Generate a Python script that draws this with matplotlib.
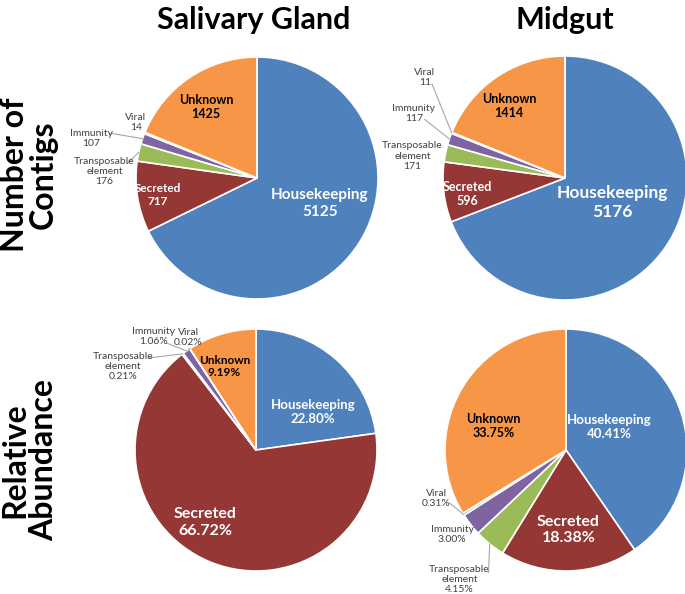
"""Pie charts of contig categories: counts and relative abundance in salivary gland and midgut."""
import matplotlib
matplotlib.use('Agg')
import matplotlib.pyplot as plt
import numpy as np

plt.rcParams['font.family'] = ['Lato', 'DejaVu Sans']

categories = ['Housekeeping', 'Secreted', 'Transposable\nelement', 'Immunity', 'Viral', 'Unknown']
colors = ['#4F81BD', '#953735', '#9BBB59', '#8064A2', '#4BACC6', '#F79646']

sg_contigs = [5125, 717, 176, 107, 14, 1425]
mg_contigs = [5176, 596, 171, 117, 11, 1414]
sg_abundance = [22.80, 66.72, 0.21, 1.06, 0.02, 9.19]
mg_abundance = [40.41, 18.38, 4.15, 3.00, 0.31, 33.75]

col_titles = ['Salivary Gland', 'Midgut']
row_titles = ['Number of\nContigs', 'Relative\nAbundance']

W, H = 685, 594

# label layout per pie: (x, y, style, fontsize, line_start) in units of the pie radius
# style: 'in' white bold, 'ink' black bold, 'out' small dark grey with optional leader line
layouts = {
    'tl': [(0.52, -0.21, 'in', 11, None), (-0.82, -0.14, 'in', 8.5, None),
           (-1.26, 0.05, 'out', 7.5, (-1.07, 0.12)), (-1.37, 0.33, 'out', 7.5, (-1.21, 0.37)),
           (-1.00, 0.46, 'out', 7.5, None), (-0.42, 0.59, 'ink', 9, None)],
    'tr': [(0.39, -0.20, 'in', 12.5, None), (-0.80, -0.13, 'in', 9, None),
           (-1.25, 0.18, 'out', 7.5, None), (-1.24, 0.53, 'out', 7.5, (-1.15, 0.48)),
           (-1.15, 0.82, 'out', 7.5, (-1.09, 0.77)), (-0.46, 0.59, 'ink', 9, None)],
    'bl': [(0.47, 0.31, 'in', 9.5, None), (-0.42, -0.60, 'in', 11.5, None),
           (-1.10, 0.69, 'out', 7.5, (-0.89, 0.76)), (-0.85, 0.94, 'out', 7.5, (-0.73, 0.88)),
           (-0.56, 0.93, 'out', 7.5, (-0.56, 0.83)), (-0.26, 0.69, 'ink', 8.5, None)],
    'br': [(0.36, 0.19, 'in', 9.5, None), (0.02, -0.66, 'in', 11.5, None),
           (-0.88, -1.07, 'out', 7.5, (-0.64, -1.01)), (-0.94, -0.70, 'out', 7.5, None),
           (-1.07, -0.40, 'out', 7.5, (-0.96, -0.44)), (-0.60, 0.20, 'ink', 9, None)],
}

# pie centres and radius in pixels
pies = [('tl', sg_contigs, 257, 178, 121, '{:d}'),
        ('tr', mg_contigs, 565, 178, 122, '{:d}'),
        ('bl', sg_abundance, 256, 450, 121, '{:.2f}%'),
        ('br', mg_abundance, 566, 450, 121, '{:.2f}%')]

fig = plt.figure(figsize=(W / 100, H / 100), dpi=100)

for key, values, cx, cy, r, fmt in pies:
    ax = fig.add_axes([(cx - r) / W, 1 - (cy + r) / H, 2 * r / W, 2 * r / H])
    wedges, _ = ax.pie(values, colors=colors, startangle=90, counterclock=False,
                       wedgeprops=dict(edgecolor='white', linewidth=1.2))
    ax.set_xlim(-1, 1)
    ax.set_ylim(-1, 1)
    ax.set_aspect('equal')
    ax.axis('off')
    for wedge, cat, val, (x, y, style, size, start) in zip(wedges, categories, values, layouts[key]):
        txt = cat + '\n' + fmt.format(val)
        if style == 'out':
            ax.text(x, y, txt, ha='center', va='center', fontsize=size,
                    color='#404040', linespacing=1.15, clip_on=False)
            if start is not None:
                mid = np.deg2rad((wedge.theta1 + wedge.theta2) / 2)
                ax.plot([start[0], np.cos(mid)], [start[1], np.sin(mid)],
                        color='#A6A6A6', lw=0.8, clip_on=False)
        else:
            ax.text(x, y, txt, ha='center', va='center', fontsize=size, fontweight='bold',
                    color='white' if style == 'in' else 'black', linespacing=1.2)

for i, title in enumerate(col_titles):
    fig.text([254, 565][i] / W, 1 - 20 / H, title, ha='center', va='center',
             fontsize=22, fontweight='bold')

for i, title in enumerate(row_titles):
    fig.text(29 / W, 1 - [175, 460][i] / H, title, ha='center', va='center',
             fontsize=23, fontweight='bold', rotation=90, linespacing=1.0)

fig.savefig('out.png', dpi=100)
